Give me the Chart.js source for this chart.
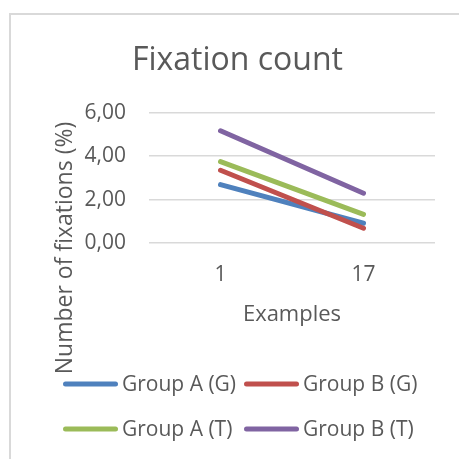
<!DOCTYPE html>
<html>
<head>
<meta charset="utf-8">
<script src="https://cdn.jsdelivr.net/npm/chart.js@4.4.0/dist/chart.umd.min.js"></script>
<style>
  body { margin: 0; background: #fff; }
  #wrap { position: relative; width: 459px; height: 459px; overflow: hidden; }
  #frame {
    position: absolute; left: 9px; top: 13px; width: 600px; height: 600px;
    border-left: 2px solid #d9d9d9; border-top: 2px solid #d9d9d9;
  }
  #fixChart { position: absolute; left: 0; top: 0; }
</style>
</head>
<body>
<div id="wrap">
  <div id="frame"></div>
  <canvas id="fixChart" width="459" height="459"></canvas>
</div>
<script>
const examples = ['1', '17'];
const groupAG = [2.69, 0.91];
const groupBG = [3.35, 0.68];
const groupAT = [3.75, 1.32];
const groupBT = [5.17, 2.29];
const yTicks = [0, 2, 4, 6];

const textColor = '#595959';
const fontFamily = '"Open Sans", sans-serif';

// y title sits lower than the plot in the original, so draw it by hand
const yTitlePlugin = {
  id: 'yTitle',
  afterDraw(chart) {
    const ctx = chart.ctx;
    ctx.save();
    ctx.translate(71.5, 248);
    ctx.rotate(-Math.PI / 2);
    ctx.font = '23px ' + fontFamily;
    ctx.fillStyle = textColor;
    ctx.textAlign = 'center';
    ctx.textBaseline = 'alphabetic';
    ctx.fillText('Number of fixations (%)', 0, 0);
    ctx.restore();
  }
};

// legend in a 2x2 grid with line samples
const lineLegendPlugin = {
  id: 'lineLegend',
  afterDraw(chart) {
    const ctx = chart.ctx;
    const colX = [65.5, 246.5];
    const rowY = [384, 429];
    ctx.save();
    ctx.font = '21px ' + fontFamily;
    ctx.textBaseline = 'middle';
    ctx.textAlign = 'left';
    chart.data.datasets.forEach(function(ds, i) {
      const x = colX[i % 2];
      const y = rowY[Math.floor(i / 2)];
      ctx.beginPath();
      ctx.strokeStyle = ds.borderColor;
      ctx.lineWidth = 5;
      ctx.lineCap = 'round';
      ctx.moveTo(x, y);
      ctx.lineTo(x + 50, y);
      ctx.stroke();
      ctx.fillStyle = textColor;
      ctx.fillText(ds.label, x + 56.5, y + 1);
    });
    ctx.restore();
  }
};

function lineSet(label, data, color, order) {
  return {
    label: label,
    data: data,
    borderColor: color,
    backgroundColor: color,
    borderWidth: 5,
    borderCapStyle: 'round',
    pointRadius: 0,
    pointHoverRadius: 0,
    tension: 0,
    order: order
  };
}

new Chart(document.getElementById('fixChart'), {
  type: 'line',
  data: {
    labels: examples,
    datasets: [
      lineSet('Group A (G)', groupAG, '#4F81BD', 4),
      lineSet('Group B (G)', groupBG, '#C0504D', 3),
      lineSet('Group A (T)', groupAT, '#9BBB59', 2),
      lineSet('Group B (T)', groupBT, '#8064A2', 1)
    ]
  },
  options: {
    responsive: false,
    animation: false,
    layout: {
      padding: { left: 40, right: 24, top: 0, bottom: 116 }
    },
    plugins: {
      legend: { display: false },
      tooltip: { enabled: false },
      title: {
        display: true,
        text: 'Fixation count',
        color: textColor,
        font: { family: fontFamily, size: 32, weight: 'normal', lineHeight: 1.2 },
        padding: { top: 42, bottom: 32.3 }
      }
    },
    scales: {
      x: {
        offset: true,
        grid: { display: false },
        border: { display: false },
        ticks: {
          color: textColor,
          padding: 11,
          font: { family: fontFamily, size: 21 }
        },
        title: {
          display: true,
          text: 'Examples',
          color: textColor,
          font: { family: fontFamily, size: 22, lineHeight: 1.2 },
          padding: { top: 0, bottom: 14.8 }
        },
        afterFit: function(scale) { scale.height = 100; }
      },
      y: {
        min: 0,
        max: 6,
        afterBuildTicks: function(scale) {
          scale.ticks = yTicks.map(function(v) { return { value: v }; });
        },
        grid: { color: '#d9d9d9', lineWidth: 1.5, drawTicks: false },
        border: { display: false },
        ticks: {
          color: textColor,
          padding: 23,
          font: { family: fontFamily, size: 21 },
          callback: function(v) { return v.toFixed(2).replace('.', ','); }
        },
        afterFit: function(scale) { scale.width = 109; }
      }
    }
  },
  plugins: [yTitlePlugin, lineLegendPlugin]
});
</script>
</body>
</html>
